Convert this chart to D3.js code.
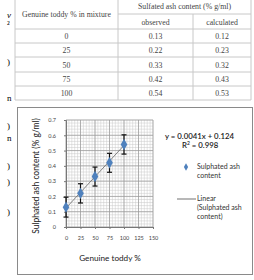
<!DOCTYPE html>
<html>
<head>
<meta charset="utf-8">
<script src="https://cdn.jsdelivr.net/npm/d3@7"></script>
<style>
  body { margin: 0; background: #fff; }
  svg { display: block; }
</style>
</head>
<body>
<div id="chart"></div>
<script>
// table data
const toddy = [0, 25, 50, 75, 100];
const observed = [0.13, 0.22, 0.33, 0.42, 0.54];
const calculated = [0.12, 0.23, 0.32, 0.43, 0.53];
// chart data
const errBar = [0.065, 0.063, 0.062, 0.062, 0.063];
const xTicks = [0, 25, 50, 75, 100, 125, 150];
const yTicks = [0, 0.1, 0.2, 0.3, 0.4, 0.5, 0.6, 0.7];
const slope = 0.0041, intercept = 0.124;
// cut-off text from the neighbouring page column
const marginText = [["v", 15, true], ["²", 24, false], [")", 62, false], ["n", 98, false],
  [")", 126, false], ["n", 138, false], [")", 166, false], [")", 182, false], [")", 212, false]];

const width = 254, height = 280;
const svg = d3.select('#chart').append('svg')
    .attr('width', width)
    .attr('height', height);

const serif = '"Liberation Serif", "DejaVu Serif", serif';
const sans = 'Lato, "Open Sans", sans-serif';

// margin fragments
svg.selectAll('text.frag')
    .data(marginText)
    .enter()
    .append('text')
    .attr('class', 'frag')
    .attr('x', 7)
    .attr('y', d => d[1] + 3)
    .attr('font-family', serif)
    .attr('font-size', 9)
    .attr('font-style', d => d[2] ? 'italic' : 'normal')
    .text(d => d[0]);

// ---- table ----
const tLeft = 15, tRight = 251, c1 = 118, c2 = 193;
const rowY = [29, 43, 57, 72, 86, 100];
const tbl = svg.append('g')
    .attr('stroke', '#c8c8c8')
    .attr('stroke-width', 1);
tbl.append('line').attr('x1', tLeft).attr('x2', tLeft).attr('y1', 0).attr('y2', rowY[5]);
tbl.append('line').attr('x1', tRight).attr('x2', tRight).attr('y1', 0).attr('y2', rowY[5]);
tbl.append('line').attr('x1', c1).attr('x2', c1).attr('y1', 0).attr('y2', rowY[5]);
tbl.append('line').attr('x1', c2).attr('x2', c2).attr('y1', 14).attr('y2', rowY[5]);
tbl.append('line').attr('x1', c1).attr('x2', tRight).attr('y1', 14).attr('y2', 14);
rowY.forEach(y => {
    tbl.append('line').attr('x1', tLeft).attr('x2', tRight).attr('y1', y).attr('y2', y);
});

const tText = svg.append('g')
    .attr('font-family', serif)
    .attr('font-size', 7.8)
    .attr('fill', '#444')
    .attr('text-anchor', 'middle');
tText.append('text').attr('x', (tLeft + c1) / 2).attr('y', 17).text('Genuine toddy % in mixture');
tText.append('text').attr('x', (c1 + tRight) / 2).attr('y', 9).text('Sulfated ash content (% g/ml)');
tText.append('text').attr('x', (c1 + c2) / 2).attr('y', 25).text('observed');
tText.append('text').attr('x', (c2 + tRight) / 2).attr('y', 25).text('calculated');
toddy.forEach((t, i) => {
    const y = (rowY[i] + rowY[i + 1]) / 2 + 3;
    tText.append('text').attr('x', (tLeft + c1) / 2).attr('y', y).text(t);
    tText.append('text').attr('x', (c1 + c2) / 2).attr('y', y).text(observed[i].toFixed(2));
    tText.append('text').attr('x', (c2 + tRight) / 2).attr('y', y).text(calculated[i].toFixed(2));
});

// ---- chart box ----
svg.append('rect')
    .attr('x', 17.5).attr('y', 107.5)
    .attr('width', 235).attr('height', 167)
    .attr('fill', 'none')
    .attr('stroke', '#8a8a8a')
    .attr('stroke-width', 1);

const x = d3.scaleLinear().domain([0, 150]).range([66, 153]);
const y = d3.scaleLinear().domain([0, 0.7]).range([227, 120]);

const grid = svg.append('g');
// minor grid
grid.selectAll('line.vmin')
    .data(d3.range(0, 151, 5))
    .enter().append('line')
    .attr('x1', d => x(d)).attr('x2', d => x(d))
    .attr('y1', y(0)).attr('y2', y(0.7))
    .attr('stroke', '#c9c9c9').attr('stroke-width', 0.5);
grid.selectAll('line.hmin')
    .data(d3.range(0, 36).map(i => i * 0.02))
    .enter().append('line')
    .attr('x1', x(0)).attr('x2', x(150))
    .attr('y1', d => y(d)).attr('y2', d => y(d))
    .attr('stroke', '#c9c9c9').attr('stroke-width', 0.5);
// major grid
grid.selectAll('line.vmaj')
    .data(xTicks)
    .enter().append('line')
    .attr('x1', d => x(d)).attr('x2', d => x(d))
    .attr('y1', y(0)).attr('y2', y(0.7))
    .attr('stroke', '#9a9a9a').attr('stroke-width', 0.7);
grid.selectAll('line.hmaj')
    .data(yTicks)
    .enter().append('line')
    .attr('x1', x(0)).attr('x2', x(150))
    .attr('y1', d => y(d)).attr('y2', d => y(d))
    .attr('stroke', '#9a9a9a').attr('stroke-width', 0.7);

// axes
const xAxis = svg.append('g')
    .attr('transform', 'translate(0,' + y(0) + ')')
    .call(d3.axisBottom(x).tickValues(xTicks).tickSize(2).tickPadding(7));
const yAxis = svg.append('g')
    .attr('transform', 'translate(' + x(0) + ',0)')
    .call(d3.axisLeft(y).tickValues(yTicks).tickSize(2).tickPadding(8)
        .tickFormat(d => d === 0 ? '0' : d3.format('.1f')(d)));
[xAxis, yAxis].forEach(a => {
    a.selectAll('path, line').attr('stroke', '#777');
    a.selectAll('text').attr('font-family', sans).attr('font-size', 5.5).attr('fill', '#444');
});

// axis titles
svg.append('text')
    .attr('x', 110).attr('y', 261)
    .attr('text-anchor', 'middle')
    .attr('font-family', sans).attr('font-size', 8.2).attr('fill', '#222')
    .text('Genuine toddy %');
svg.append('text')
    .attr('transform', 'translate(39,176) rotate(-90)')
    .attr('text-anchor', 'middle')
    .attr('font-family', sans).attr('font-size', 8.5).attr('fill', '#222')
    .text('Sulphated ash content (% g/ml)');

// trendline
svg.append('line')
    .attr('x1', x(0)).attr('y1', y(intercept))
    .attr('x2', x(100)).attr('y2', y(intercept + slope * 100))
    .attr('stroke', '#666').attr('stroke-width', 0.8);

// error bars
const eb = svg.append('g').attr('stroke', '#111').attr('stroke-width', 1.2);
toddy.forEach((t, i) => {
    const cx = x(t);
    eb.append('line').attr('x1', cx).attr('x2', cx)
        .attr('y1', y(observed[i] - errBar[i])).attr('y2', y(observed[i] + errBar[i]));
    [observed[i] - errBar[i], observed[i] + errBar[i]].forEach(v => {
        eb.append('line').attr('x1', cx - 2.5).attr('x2', cx + 2.5)
            .attr('y1', y(v)).attr('y2', y(v));
    });
});

// points
const diamond = d3.symbol().type(d3.symbolDiamond).size(38);
svg.selectAll('path.pt')
    .data(toddy)
    .enter().append('path')
    .attr('class', 'pt')
    .attr('d', diamond)
    .attr('transform', (d, i) => 'translate(' + x(d) + ',' + y(observed[i]) + ')')
    .attr('fill', '#4f81bd');

// equation
const eq = svg.append('g').attr('font-family', sans).attr('fill', '#222').attr('font-weight', 600);
eq.append('text').attr('x', 165).attr('y', 139).attr('font-size', 7.8).text('y = 0.0041x + 0.124');
eq.append('text').attr('x', 182).attr('y', 148).attr('font-size', 7.8)
    .html('R<tspan dy="-3" font-size="5">2</tspan><tspan dy="3"> = 0.998</tspan>');

// legend
const lg = svg.append('g').attr('font-family', sans).attr('font-size', 7).attr('fill', '#333');
lg.append('path')
    .attr('d', d3.symbol().type(d3.symbolDiamond).size(16))
    .attr('transform', 'translate(186,167)')
    .attr('fill', '#4f81bd');
lg.append('text').attr('x', 197).attr('y', 169).text('Sulphated ash');
lg.append('text').attr('x', 197).attr('y', 178).text('content');
lg.append('line').attr('x1', 177).attr('x2', 196).attr('y1', 199).attr('y2', 199)
    .attr('stroke', '#333').attr('stroke-width', 0.7);
lg.append('text').attr('x', 197).attr('y', 201).text('Linear');
lg.append('text').attr('x', 197).attr('y', 210).text('(Sulphated ash');
lg.append('text').attr('x', 197).attr('y', 219).text('content)');
</script>
</body>
</html>
